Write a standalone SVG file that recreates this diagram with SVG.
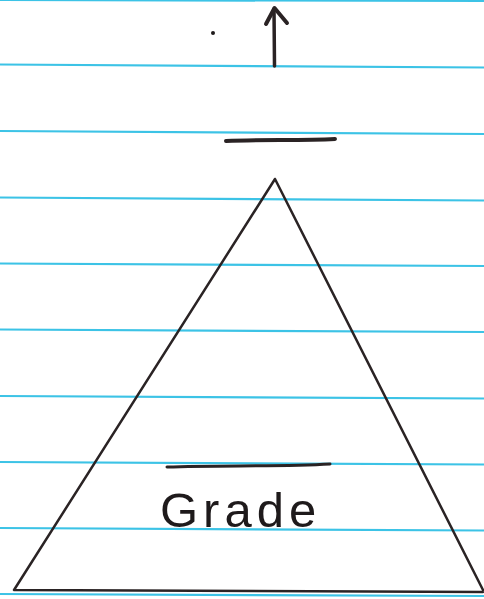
<svg xmlns="http://www.w3.org/2000/svg" width="484" height="599" viewBox="0 0 484 599">
<style>
.rule{stroke:#3cc3e6;stroke-width:2.2;fill:none}
.ink{stroke:#2a2324;fill:none;stroke-linecap:round;stroke-linejoin:round}
.lbl{font-family:"Liberation Sans",Arial,sans-serif;font-size:49px;fill:#1e1a1b;letter-spacing:5px}
</style>
<rect width="484" height="599" fill="#ffffff"/>
<g id="paper-lines">
<line class="rule" x1="0" y1="0" x2="484" y2="1"/>
<line class="rule" x1="0" y1="64.5" x2="484" y2="67.5"/>
<line class="rule" x1="0" y1="131" x2="484" y2="134"/>
<line class="rule" x1="0" y1="197.5" x2="484" y2="200.5"/>
<line class="rule" x1="0" y1="263.5" x2="484" y2="266"/>
<line class="rule" x1="0" y1="329.5" x2="484" y2="332"/>
<line class="rule" x1="0" y1="396" x2="484" y2="398.5"/>
<line class="rule" x1="0" y1="462" x2="484" y2="464.5"/>
<line class="rule" x1="0" y1="528" x2="484" y2="530.5"/>
<line class="rule" x1="0" y1="594" x2="484" y2="596"/>
</g>
<g id="dot"><circle cx="213" cy="33" r="2" fill="#1e1a1b"/></g>
<g id="arrow">
<path class="ink" d="M274.5 66 L274 9" stroke-width="3.5"/>
<path class="ink" d="M266 24 L274.5 8 L287 23" stroke-width="4"/>
</g>
<g id="top-bar"><path class="ink" d="M226 141 C260 139 300 141 335 139" stroke-width="4"/></g>
<g id="triangle">
<path class="ink" d="M275 179 L14 590 L483 592 M275 179 L483 590" stroke-width="2.5"/>
</g>
<g id="grade-bar"><path class="ink" d="M167 467 C220 465 280 467 330 464" stroke-width="3"/></g>
<g id="grade"><text class="lbl" x="160" y="527">Grade</text></g>
</svg>
